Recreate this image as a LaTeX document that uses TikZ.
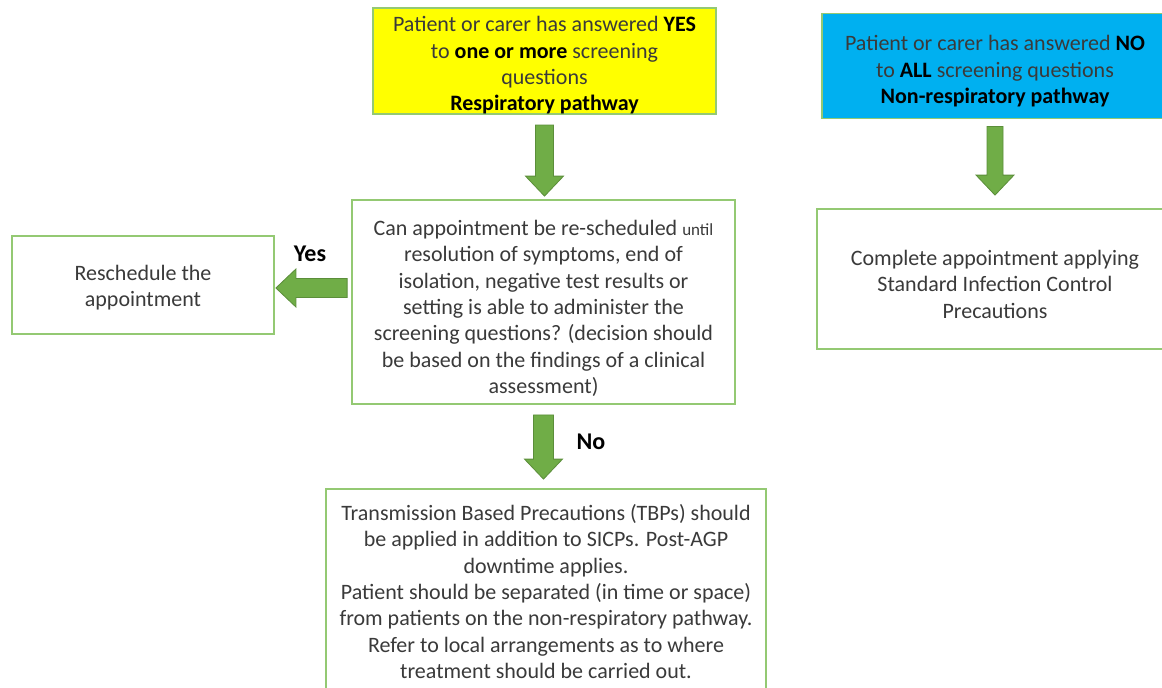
\documentclass[tikz,border=0pt]{standalone}
\usepackage{fontspec}
\setmainfont{Carlito}
\usetikzlibrary{calc}
\definecolor{boxgreen}{HTML}{94C973}
\definecolor{arrfill}{HTML}{70AD47}
\definecolor{arrdraw}{HTML}{5B8E3A}
\definecolor{txt}{HTML}{3A3A3A}
\definecolor{cyanbox}{HTML}{00B0F0}
\definecolor{yellowbox}{HTML}{FFFF00}
\newcommand\bk[1]{\textbf{\color{black}#1}}
\newcommand\tstrut[1]{\rule{0pt}{#1pt}}
\newcommand\blockdown[3]{%
  \draw[arrstyle] ($(#1)+(-#3,0)$) -- ($(#1)+(#3,0)$) -- ($(#2)+(#3,-20)$) -- ($(#2)+(19,-20)$) -- (#2) -- ($(#2)+(-19,-20)$) -- ($(#2)+(-#3,-20)$) -- cycle;}
\newcommand\blockleft[3]{%
  \draw[arrstyle] ($(#1)+(0,-#3)$) -- ($(#1)+(0,#3)$) -- ($(#2)+(20,#3)$) -- ($(#2)+(20,19)$) -- (#2) -- ($(#2)+(20,-19)$) -- ($(#2)+(20,-#3)$) -- cycle;}
\begin{document}
\begin{tikzpicture}[x=1pt,y=-1pt,
  box/.style={draw=boxgreen, line width=1.8pt, rectangle, inner sep=0pt, align=center,
    text=txt, font=\fontsize{22}{26.3}\selectfont},
  lbl/.style={font=\fontsize{24}{26}\selectfont\bfseries, text=black, inner sep=0pt},
  arrstyle/.style={fill=arrfill, draw=arrdraw, line width=0.8pt, line join=miter}]
\useasboundingbox (0,0) rectangle (1162,688);
\fill[white] (0,0) rectangle (1162,688);
\clip (0,0) rectangle (1162,688);

\node[box, fill=yellowbox, minimum width=343pt, minimum height=106pt] (yesbox) at (544.5,61)
  {\tstrut{24}Patient or carer has answered \bk{YES}\\ to \bk{one or more} screening\\ questions\\ \bk{Respiratory pathway}};
\node[box, fill=cyanbox, minimum width=346pt, minimum height=105pt] (nobox) at (995,66)
  {\tstrut{26}Patient or carer has answered \bk{NO}\\ to \bk{ALL} screening questions\\ \bk{Non-respiratory pathway}};
\node[box, fill=white, minimum width=356pt, minimum height=140pt] (sicp) at (995,279)
  {\tstrut{26}Complete appointment applying\\ Standard Infection Control\\ Precautions};
\node[box, fill=white, minimum width=383pt, minimum height=204pt] (ask) at (543.5,302)
  {\tstrut{28}Can appointment be re-scheduled {\fontsize{17}{26.3}\selectfont until}\\ resolution of symptoms, end of\\ isolation, negative test results or\\ setting is able to administer the\\ screening questions? (decision should\\ be based on the findings of a clinical\\ assessment)};
\node[box, fill=white, minimum width=262pt, minimum height=98pt] (resched) at (143,285)
  {\tstrut{21}Reschedule the\\ appointment};
\node[box, fill=white, minimum width=440pt, minimum height=205pt] (tbp) at (546,591.5)
  {Transmission Based Precautions (TBPs) should\\ be applied in addition to SICPs. Post-AGP\\ downtime applies.\\ Patient should be separated (in time or space)\\ from patients on the non-respiratory pathway.\\ Refer to local arrangements as to where\\ treatment should be carried out.};

% arrow yes -> ask
\coordinate (a1s) at ($(yesbox.south)+(0,10)$);
\coordinate (a1e) at ($(a1s |- ask.north)+(0,-3)$);
\blockdown{a1s}{a1e}{9}
% arrow no -> sicp
\coordinate (a2s) at ($(nobox.south)+(0,7)$);
\coordinate (a2e) at ($(a2s |- sicp.north)+(0,-13)$);
\blockdown{a2s}{a2e}{8}
% arrow ask -> tbp (No)
\coordinate (a3s) at ($(ask.south)+(0,10)$);
\coordinate (a3e) at ($(a3s |- tbp.north)+(0,-9)$);
\blockdown{a3s}{a3e}{10}
% arrow ask -> resched (Yes)
\coordinate (a4e) at ($(resched.east)+(1,3)$);
\coordinate (a4s) at ($(ask.west |- a4e)+(-4,0)$);
\blockleft{a4s}{a4e}{9.5}

\node[lbl] (yeslbl) at (310,254) {Yes};
\node[lbl] (nolbl) at (591,442) {No};
\end{tikzpicture}
\end{document}
